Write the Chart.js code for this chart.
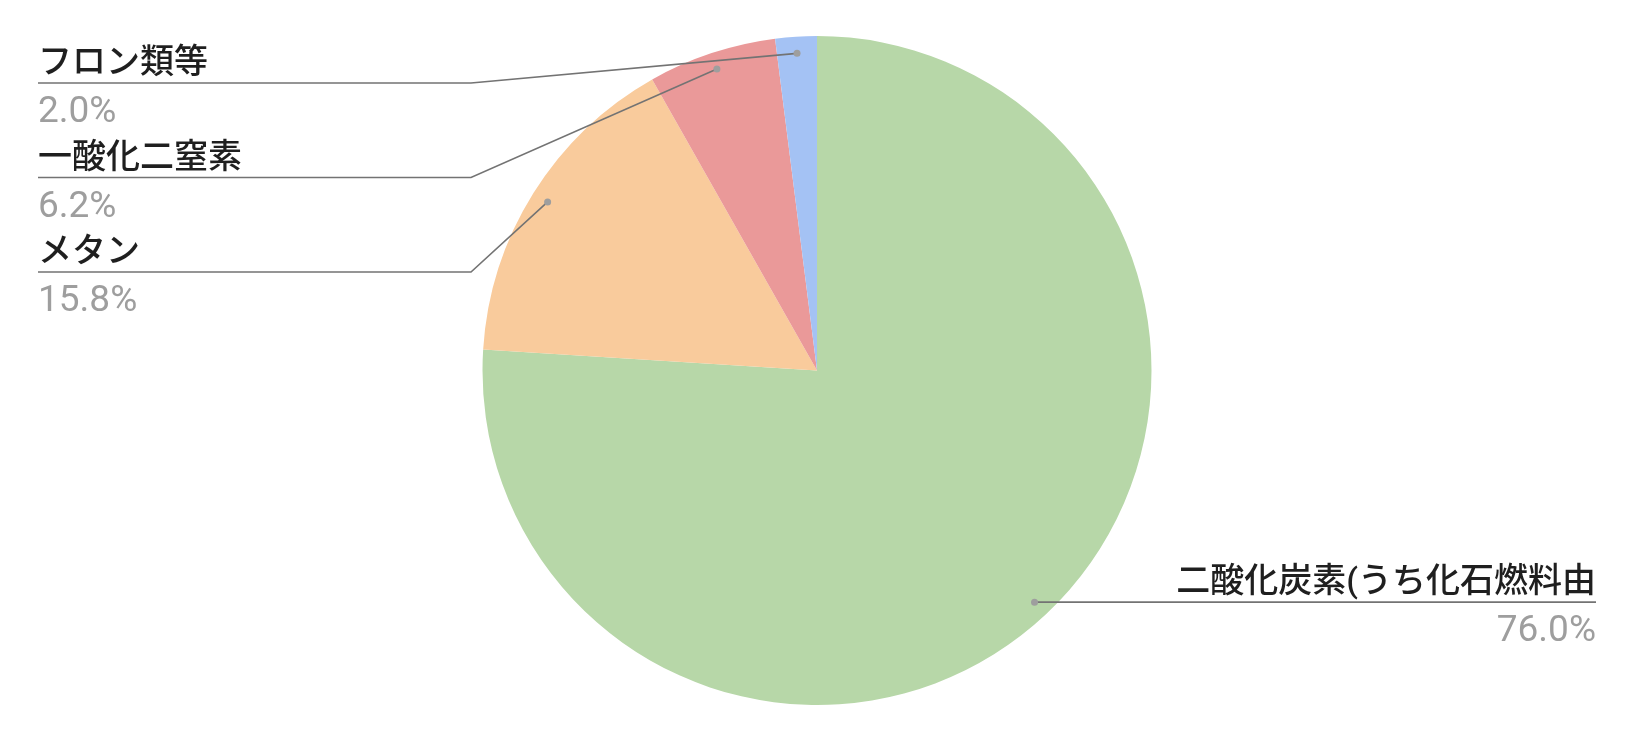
<!DOCTYPE html>
<html>
<head>
<meta charset="utf-8">
<script src="https://cdn.jsdelivr.net/npm/chart.js@4/dist/chart.umd.min.js"></script>
<style>
  html, body { margin: 0; padding: 0; background: #fff; }
  #wrap { width: 1634px; height: 742px; }
</style>
</head>
<body>
<div id="wrap"><canvas id="grafico"></canvas></div>
<script>
const categorias = ['二酸化炭素(うち化石燃料由', 'メタン', '一酸化二窒素', 'フロン類等'];
const valores = [76.0, 15.8, 6.2, 2.0];
const cores = ['#b7d7a8', '#f9cb9c', '#ea9999', '#a4c2f4'];

// Rótulos com linha de chamada, estilo planilha
const rotulosPlugin = {
  id: 'rotulos',
  afterDatasetsDraw(chart) {
    const ctx = chart.ctx;
    const meta = chart.getDatasetMeta(0);
    const total = valores.reduce((a, b) => a + b, 0);
    const margem = 38;
    const cotovelo = 471;
    const esquerda = [];
    const direita = [];

    meta.data.forEach((arco, i) => {
      const p = arco.getProps(['x', 'y', 'startAngle', 'endAngle', 'outerRadius'], true);
      const meio = (p.startAngle + p.endAngle) / 2;
      const r = p.outerRadius * 0.95;
      const item = {
        i,
        ax: p.x + Math.cos(meio) * r,
        ay: p.y + Math.sin(meio) * r
      };
      if (Math.cos(meio) >= 0) direita.push(item); else esquerda.push(item);
    });

    esquerda.sort((a, b) => a.ay - b.ay);

    ctx.save();
    ctx.lineWidth = 1.6;

    function texto(item, linhaY, x, alinhamento) {
      const pct = (valores[item.i] / total * 100).toFixed(1) + '%';
      ctx.textAlign = alinhamento;
      ctx.textBaseline = 'alphabetic';
      ctx.fillStyle = '#1f1f1f';
      ctx.font = '500 34px Roboto, "Noto Sans CJK JP", sans-serif';
      ctx.fillText(categorias[item.i], x, linhaY - 10);
      ctx.fillStyle = '#9e9e9e';
      ctx.font = '37px Roboto, sans-serif';
      ctx.fillText(pct, x, linhaY + 39);
    }

    function ponto(item) {
      ctx.fillStyle = '#9e9e9e';
      ctx.beginPath();
      ctx.arc(item.ax, item.ay, 3.5, 0, Math.PI * 2);
      ctx.fill();
    }

    esquerda.forEach((item, k) => {
      const linhaY = 83 + k * 94.5;
      ctx.strokeStyle = '#737373';
      ctx.beginPath();
      ctx.moveTo(margem, linhaY);
      ctx.lineTo(cotovelo, linhaY);
      ctx.lineTo(item.ax, item.ay);
      ctx.stroke();
      ponto(item);
      texto(item, linhaY, margem, 'left');
    });

    direita.forEach(item => {
      const linhaY = item.ay;
      const fim = chart.width - margem;
      ctx.strokeStyle = '#737373';
      ctx.beginPath();
      ctx.moveTo(item.ax, linhaY);
      ctx.lineTo(fim, linhaY);
      ctx.stroke();
      ponto(item);
      texto(item, linhaY, fim, 'right');
    });

    ctx.restore();
  }
};

const ctx = document.getElementById('grafico').getContext('2d');
new Chart(ctx, {
  type: 'pie',
  data: {
    labels: categorias,
    datasets: [{
      data: valores,
      backgroundColor: cores,
      borderWidth: 0
    }]
  },
  options: {
    responsive: true,
    maintainAspectRatio: false,
    animation: false,
    events: [],
    layout: { padding: { top: 36, bottom: 37 } },
    plugins: {
      legend: { display: false },
      tooltip: { enabled: false }
    }
  },
  plugins: [rotulosPlugin]
});
</script>
</body>
</html>
